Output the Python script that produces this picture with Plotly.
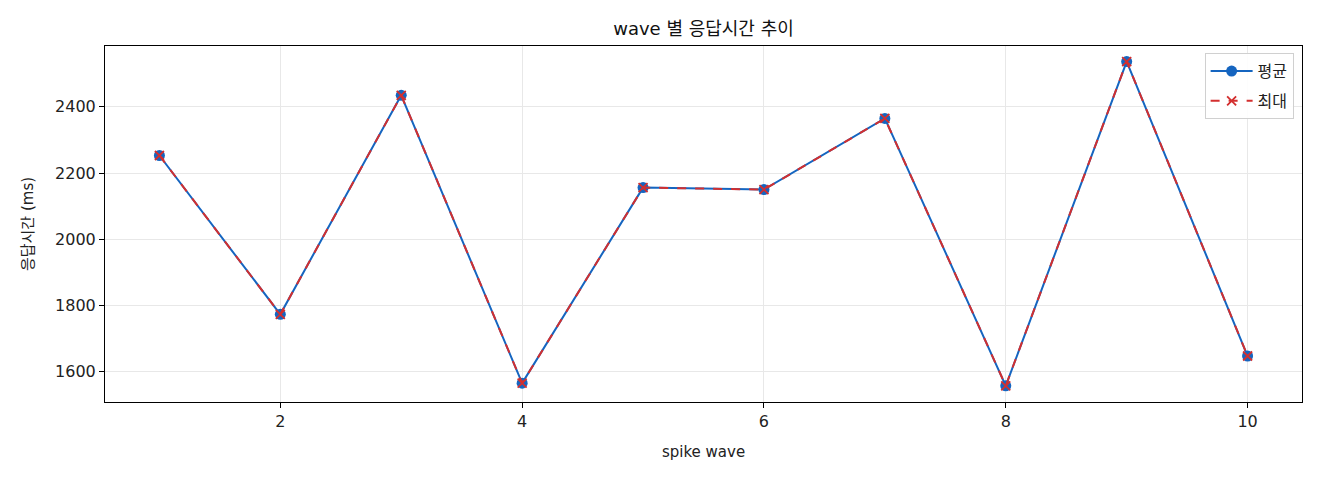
import plotly.graph_objects as go

# wave number vs response time (ms)
waves = [1, 2, 3, 4, 5, 6, 7, 8, 9, 10]
avg_ms = [2253, 1773, 2435, 1565, 2156, 2150, 2365, 1557, 2537, 1647]
max_ms = [2253, 1773, 2435, 1565, 2156, 2150, 2365, 1557, 2537, 1647]

x_ticks = [2, 4, 6, 8, 10]
y_ticks = [1600, 1800, 2000, 2200, 2400]

font_name = "DejaVu Sans, Noto Sans CJK KR"
blue = "#1565C0"
red = "#D32F2F"

fig = go.Figure()
fig.add_trace(go.Scatter(x=waves, y=avg_ms, name="평균", legendgroup="avg",
                         mode="lines+markers",
                         line=dict(color=blue, width=2),
                         marker=dict(symbol="circle", size=11, color=blue)))
fig.add_trace(go.Scatter(x=waves, y=max_ms, name="최대", legendgroup="max",
                         mode="lines+markers",
                         line=dict(color=red, width=2, dash="dash"),
                         marker=dict(symbol="x-thin", size=9,
                                     line=dict(color=red, width=1.8))))

axis_common = dict(showline=True, linecolor="black", linewidth=1, mirror=True,
                   showgrid=True, gridcolor="#e8e8e8", gridwidth=1,
                   zeroline=False, ticks="outside", ticklen=5, tickcolor="black",
                   tickfont=dict(size=16, color="#222"))

# page body has an 8px margin, so the figure is a bit smaller than the window
fig.update_layout(
    width=1304, height=464,
    paper_bgcolor="white", plot_bgcolor="white",
    font=dict(family=font_name, color="#222"),
    margin=dict(l=97, r=10, t=38, b=70),
    title=dict(text="wave 별 응답시간 추이", xref="paper", x=0.5, xanchor="center",
               y=0.955, yanchor="middle", font=dict(size=18, color="#111")),
    xaxis=dict(range=[0.55, 10.45], tickvals=x_ticks,
               title=dict(text="spike wave", font=dict(size=15), standoff=16),
               **axis_common),
    yaxis=dict(range=[1508, 2584], tickvals=y_ticks,
               title=dict(text="응답시간 (ms)", font=dict(size=15), standoff=17),
               **axis_common),
    legend=dict(x=0.993, y=0.98, xanchor="right", yanchor="top",
                bgcolor="rgba(255,255,255,0.9)", bordercolor="#d0d0d0",
                borderwidth=1, font=dict(size=16), itemwidth=42,
                tracegroupgap=6),
    showlegend=True,
)

fig.write_html("out.html")
